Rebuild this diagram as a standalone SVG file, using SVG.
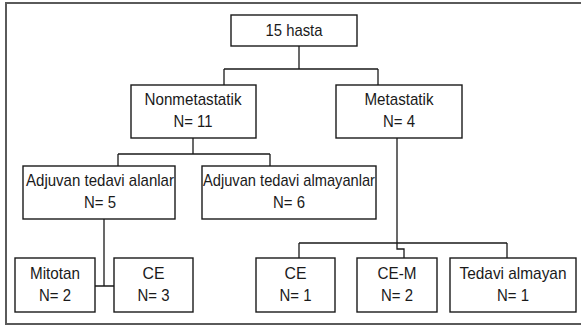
<svg xmlns="http://www.w3.org/2000/svg" width="581" height="327" viewBox="0 0 581 327">
<style>
.box{fill:#fff;stroke:#1a1a1a;stroke-width:1.4}
.lbl{font-family:"Liberation Sans",Arial,sans-serif;font-size:17px;fill:#1a1a1a;text-anchor:middle}
.con{fill:none;stroke:#1a1a1a;stroke-width:1.3}
</style>
<rect x="0" y="0" width="581" height="327" fill="#fff"/>
<rect x="6" y="3" width="580" height="321" fill="none" stroke="#5a5a5a" stroke-width="2"/>
<g id="connectors" class="con">
<path d="M299,46 V69 M224,69 H378 M224,69 V85 M378,69 V85"/>
<path d="M193,138 V154 M118,154 H270 M118,154 V166 M270,154 V166"/>
<path d="M104,219 V286 M95,286 H114"/>
<path d="M397,138 V249 H404 V258"/>
<path d="M299,243 H507 M299,243 V258 M507,243 V258"/>
</g>
<g id="n15">
<rect class="box" x="231" y="15" width="126" height="31"/>
<text class="lbl" x="294" y="36" textLength="57" lengthAdjust="spacingAndGlyphs">15 hasta</text>
</g>
<g id="nonmet">
<rect class="box" x="131" y="85" width="125" height="53"/>
<text class="lbl" x="193" y="105" textLength="97" lengthAdjust="spacingAndGlyphs">Nonmetastatik</text>
<text class="lbl" x="193" y="127" textLength="39" lengthAdjust="spacingAndGlyphs">N= 11</text>
</g>
<g id="met">
<rect class="box" x="336" y="85" width="126" height="53"/>
<text class="lbl" x="399" y="105" textLength="69" lengthAdjust="spacingAndGlyphs">Metastatik</text>
<text class="lbl" x="399" y="127" textLength="32" lengthAdjust="spacingAndGlyphs">N= 4</text>
</g>
<g id="alanlar">
<rect class="box" x="23" y="166" width="152" height="53"/>
<text class="lbl" x="100" y="186" textLength="148" lengthAdjust="spacingAndGlyphs">Adjuvan tedavi alanlar</text>
<text class="lbl" x="100" y="208" textLength="32" lengthAdjust="spacingAndGlyphs">N= 5</text>
</g>
<g id="almayanlar">
<rect class="box" x="202" y="166" width="174" height="53"/>
<text class="lbl" x="289" y="186" textLength="172" lengthAdjust="spacingAndGlyphs">Adjuvan tedavi almayanlar</text>
<text class="lbl" x="289" y="208" textLength="32" lengthAdjust="spacingAndGlyphs">N= 6</text>
</g>
<g id="mitotan">
<rect class="box" x="15" y="258" width="80" height="54"/>
<text class="lbl" x="55" y="279" textLength="50" lengthAdjust="spacingAndGlyphs">Mitotan</text>
<text class="lbl" x="55" y="301" textLength="32" lengthAdjust="spacingAndGlyphs">N= 2</text>
</g>
<g id="ce3">
<rect class="box" x="114" y="258" width="79" height="54"/>
<text class="lbl" x="153.5" y="279" textLength="22" lengthAdjust="spacingAndGlyphs">CE</text>
<text class="lbl" x="153.5" y="301" textLength="32" lengthAdjust="spacingAndGlyphs">N= 3</text>
</g>
<g id="ce1">
<rect class="box" x="256" y="258" width="79" height="54"/>
<text class="lbl" x="295.5" y="279" textLength="22" lengthAdjust="spacingAndGlyphs">CE</text>
<text class="lbl" x="295.5" y="301" textLength="32" lengthAdjust="spacingAndGlyphs">N= 1</text>
</g>
<g id="cem">
<rect class="box" x="357" y="258" width="80" height="54"/>
<text class="lbl" x="397" y="279" textLength="39" lengthAdjust="spacingAndGlyphs">CE-M</text>
<text class="lbl" x="397" y="301" textLength="32" lengthAdjust="spacingAndGlyphs">N= 2</text>
</g>
<g id="tedavi">
<rect class="box" x="450" y="258" width="126" height="54"/>
<text class="lbl" x="513" y="279" textLength="107" lengthAdjust="spacingAndGlyphs">Tedavi almayan</text>
<text class="lbl" x="513" y="301" textLength="32" lengthAdjust="spacingAndGlyphs">N= 1</text>
</g>
</svg>
